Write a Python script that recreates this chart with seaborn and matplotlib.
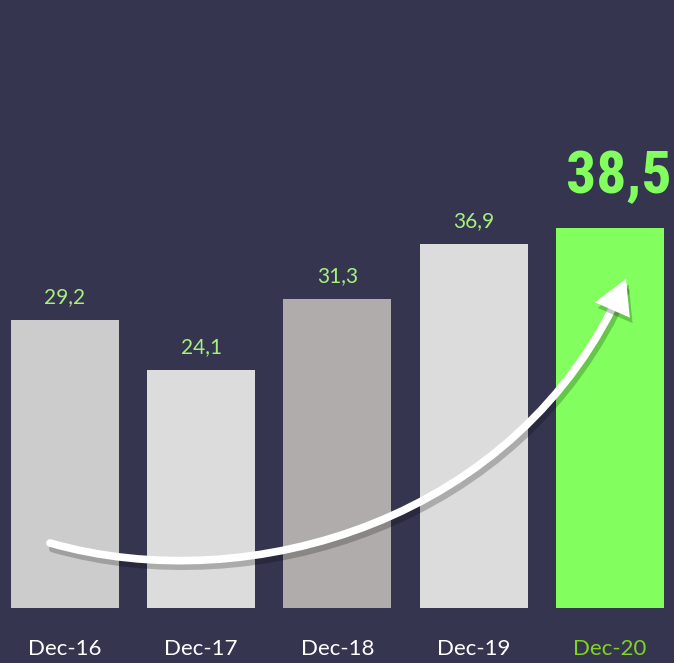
import matplotlib
matplotlib.use("Agg")
import matplotlib.pyplot as plt
import matplotlib.patheffects as pe
from matplotlib import font_manager as fm
from matplotlib.patches import FancyArrowPatch
from matplotlib.path import Path
import seaborn as sns

# data
periods = ["Dec-16", "Dec-17", "Dec-18", "Dec-19", "Dec-20"]
values = [29.2, 24.1, 31.3, 36.9, 38.5]
bar_colors = ["#cccccc", "#dcdcdc", "#b0acab", "#dcdcdc", "#82ff5e"]

BG = "#353550"
LABEL_GREEN = "#a6f07c"
BIG_GREEN = "#82ff5e"

sns.set_style("white")
plt.rcParams["font.family"] = ["Lato", "DejaVu Sans"]

# pick a condensed bold face for the highlight number, if one is installed
big_font = None
for fam, stretch in [("Liberation Sans Narrow", "condensed"), ("Roboto Condensed", "condensed"),
                     ("Open Sans Condensed", "condensed"), ("Noto Sans", "extra-condensed"),
                     ("Noto Sans", "condensed"), ("DejaVu Sans", "condensed")]:
    fp = fm.FontProperties(family=fam, weight="bold", stretch=stretch)
    try:
        fname = fm.findfont(fp, fallback_to_default=False)
    except ValueError:
        continue
    if "narrow" in fname.lower() or "condensed" in fname.lower():
        big_font = fm.FontProperties(fname=fname)
        big_size = 43
        break
if big_font is None:
    big_font = fm.FontProperties(family="Roboto", weight="bold")
    big_size = 36

fig = plt.figure(figsize=(6.74, 6.63), dpi=100, facecolor=BG)
ax = fig.add_axes([0, 55 / 663, 1, 608 / 663])
ax.set_facecolor(BG)

sns.barplot(x=periods, y=values, hue=periods, palette=bar_colors,
            legend=False, width=0.793, saturation=1, linewidth=0,
            edgecolor="none", ax=ax)

ax.set_xlim(-0.477, 4.470)
ax.set_ylim(0, 61.6)
for s in ax.spines.values():
    s.set_visible(False)
ax.set_yticks([])
ax.set_xlabel("")
ax.set_ylabel("")
ax.tick_params(axis="x", length=0, pad=22, labelsize=16, colors="white")
ax.get_xticklabels()[-1].set_color("#7fd41f")

# value labels (last one is the big highlight)
for i, v in enumerate(values[:-1]):
    ax.annotate(f"{v:.1f}".replace(".", ","), (i, v), xytext=(0, 12),
                textcoords="offset points", ha="center", va="baseline",
                fontsize=15, color=LABEL_GREEN)

last = len(values) - 1
ax.annotate(f"{values[last]:.1f}".replace(".", ","), (last, values[last]),
            xytext=(44, 25), textcoords="offset points", ha="right",
            va="baseline", fontproperties=big_font, fontsize=big_size,
            color=BIG_GREEN)

# curved growth arrow (figure pixels, origin top-left)
W, H = 674, 663
pts = [(50, 543), (250, 600), (520, 520), (626, 279)]
verts = [(x / W, 1 - y / H) for x, y in pts]
path = Path(verts, [Path.MOVETO, Path.CURVE4, Path.CURVE4, Path.CURVE4])
arrow = FancyArrowPatch(path=path, transform=fig.transFigure,
                        arrowstyle="-|>,head_length=0.8,head_width=0.45",
                        mutation_scale=20, color="white", lw=5.5,
                        capstyle="round", joinstyle="miter")
arrow.set_path_effects([pe.SimpleLineShadow(offset=(2, -4), shadow_color="black",
                                            alpha=0.22), pe.Normal()])
fig.add_artist(arrow)

fig.savefig("out.png", dpi=100, facecolor=BG)
